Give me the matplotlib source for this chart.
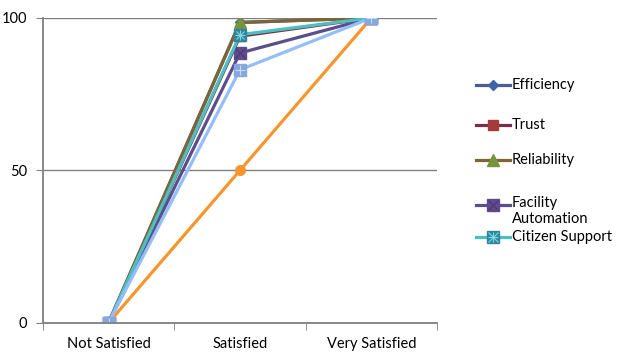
import matplotlib.pyplot as plt
from matplotlib.lines import Line2D

plt.rcParams['font.family'] = ['Lato', 'DejaVu Sans']

categories = ['Not Satisfied', 'Satisfied', 'Very Satisfied']

efficiency = [0, 98.5, 100]
trust = [0, 94, 100]
reliability = [0, 98.5, 100]
facility_automation = [0, 88.5, 100]
citizen_support = [0, 94.5, 100]
series_6 = [0, 50, 100]
series_7 = [0, 83, 100]

labels = ['Efficiency', 'Trust', 'Reliability', 'Facility\nAutomation', 'Citizen Support', None, None]
values = [efficiency, trust, reliability, facility_automation, citizen_support, series_6, series_7]
line_colors = ['#4A5B9A', '#7B2C4B', '#7D6535', '#5B4E8C', '#4BC0C0', '#F7962F', '#95BDF7']
marker_colors = ['#3F62A8', '#A33B3B', '#77933C', '#5F4A8B', '#31869C', '#F7962F', '#87A8DC']
markers = ['D', 's', '^', 's', 's', 'o', 's']
msizes = [5.5, 7, 8, 8, 8, 7, 8]
# thin symbols drawn over some markers, as in the original
overlays = [None, None, None, ('x', '#4A3A78'), ('*', '#7FD6E0'), None, ('+', '#C6D9F5')]

fig = plt.figure(figsize=(6.29, 3.58), dpi=100)
ax = fig.add_axes([0.068, 0.098, 0.627, 0.852])

x = list(range(len(categories)))
for vals, lc, mc, mk, ms, ov in zip(values, line_colors, marker_colors, markers, msizes, overlays):
    ax.plot(x, vals, color=lc, lw=2.3, marker=mk, ms=ms, mfc=mc, mec=mc, solid_joinstyle='miter')
    if ov is not None:
        if ov[0] == '*':
            ax.plot(x, vals, ls='none', marker='+', ms=ms - 1, mew=0.8, color=ov[1])
            ax.plot(x, vals, ls='none', marker='x', ms=ms - 2, mew=0.8, color=ov[1])
        else:
            ax.plot(x, vals, ls='none', marker=ov[0], ms=ms - 1, mew=0.8, color=ov[1])

ax.set_xlim(-0.5, 2.5)
ax.set_ylim(0, 100)
ax.set_yticks([0, 50, 100])
ax.set_xticks(x)
ax.set_xticklabels(categories, fontsize=10.5)
ax.set_xticks([-0.5, 0.5, 1.5, 2.5], minor=True)
ax.tick_params(axis='x', which='major', length=0, pad=10)
ax.tick_params(axis='x', which='minor', length=5, color='#808080')
ax.tick_params(axis='y', length=5, color='#808080', labelsize=10.5, pad=6)
ax.grid(axis='y', color='#808080', lw=1)
ax.set_axisbelow(True)
for s in ['top', 'right']:
    ax.spines[s].set_visible(False)
for s in ['left', 'bottom']:
    ax.spines[s].set_color('#808080')
    ax.spines[s].set_linewidth(1.3)

# legend drawn by hand to match the spacing of the original
legend_y = [85, 125, 160, 205, 237]
for i, ly in enumerate(legend_y):
    yf = 1 - ly / 358
    fig.add_artist(Line2D([476 / 629, 510 / 629], [yf, yf], color=line_colors[i], lw=2.3,
                          transform=fig.transFigure))
    fig.add_artist(Line2D([493 / 629], [yf], marker=markers[i], ms=msizes[i], color=line_colors[i],
                          mfc=marker_colors[i], mec=marker_colors[i], transform=fig.transFigure))
    if overlays[i] is not None:
        ov = overlays[i]
        syms = ['+', 'x'] if ov[0] == '*' else [ov[0]]
        for sm in syms:
            fig.add_artist(Line2D([493 / 629], [yf], marker=sm, ms=msizes[i] - 1, mew=0.8,
                                  color=ov[1], transform=fig.transFigure))
    fig.text(512 / 629, yf, labels[i], fontsize=10.5, va='center', ha='left', linespacing=1.15)

# the two-line label hangs below its handle
fig.texts[3].set_va('top')
fig.texts[3].set_position((512 / 629, 1 - 196 / 358))

fig.savefig('out.png', dpi=100)
